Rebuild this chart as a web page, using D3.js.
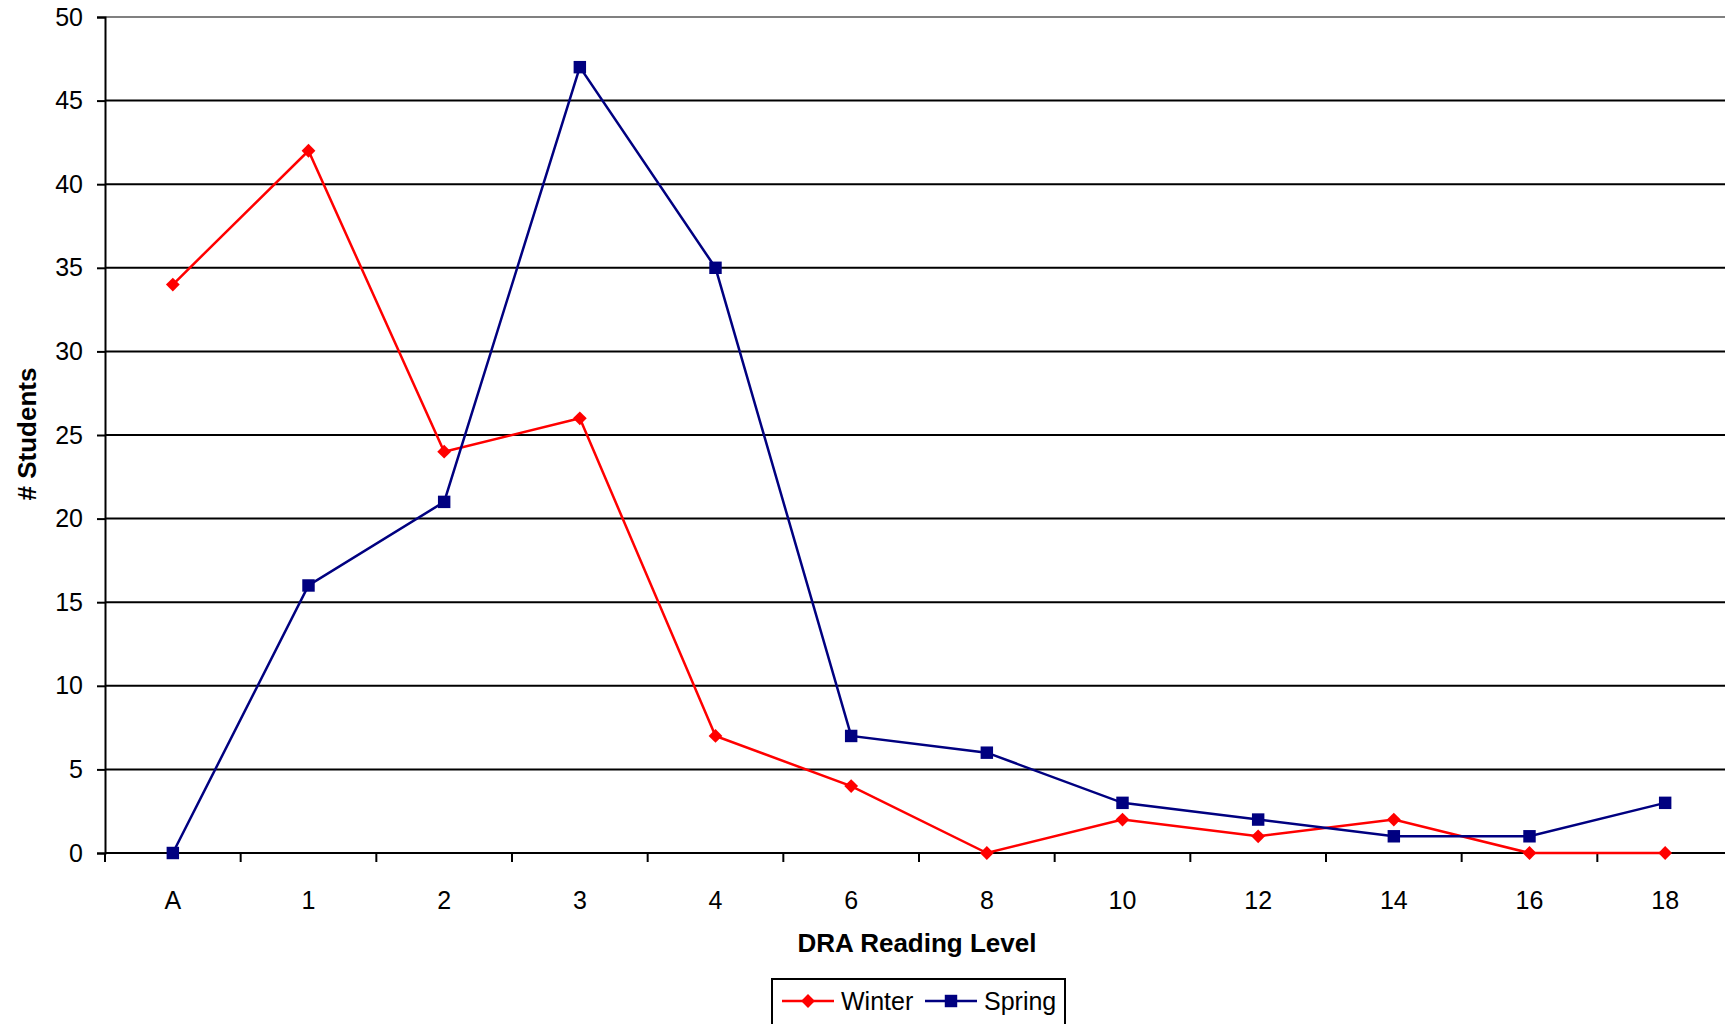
<!DOCTYPE html>
<html>
<head>
<meta charset="utf-8">
<script src="https://cdn.jsdelivr.net/npm/d3@7"></script>
<style>
  body { margin: 0; background: #fff; }
  text { font-family: "Liberation Sans", Arial, sans-serif; }
</style>
</head>
<body>
<script>
const levels = ["A", "1", "2", "3", "4", "6", "8", "10", "12", "14", "16", "18"];
const winter = [34, 42, 24, 26, 7, 4, 0, 2, 1, 2, 0, 0];
const spring = [0, 16, 21, 47, 35, 7, 6, 3, 2, 1, 1, 3];
const yTicks = [0, 5, 10, 15, 20, 25, 30, 35, 40, 45, 50];

const main = () => {
  const width = 1725, height = 1024;
  const left = 105, top = 17, bottom = 853;

  const svg = d3.select("body")
    .append("svg")
    .attr("width", width)
    .attr("height", height);

  const x = d3.scaleBand()
    .domain(levels)
    .range([left, 1733]);

  const y = d3.scaleLinear()
    .domain([0, 50])
    .range([bottom, top]);

  // gridlines
  svg.append("g")
    .selectAll("line")
    .data(yTicks.filter(d => d > 0))
    .enter()
    .append("line")
    .attr("x1", left)
    .attr("x2", width)
    .attr("y1", d => y(d))
    .attr("y2", d => y(d))
    .attr("stroke", d => d === 50 ? "#808080" : "#000")
    .attr("stroke-width", 2);

  // y axis
  const yAxis = svg.append("g")
    .attr("transform", `translate(${left},0)`)
    .call(d3.axisLeft(y).tickValues(yTicks).tickSize(8).tickPadding(14));
  yAxis.select(".domain").attr("stroke-width", 2);
  yAxis.selectAll(".tick line").attr("stroke-width", 2);
  yAxis.selectAll("text")
    .attr("font-size", 25)
    .attr("fill", "#000")
    .style("font-family", "Liberation Sans, Arial, sans-serif");

  // x axis
  const xAxis = svg.append("g")
    .attr("transform", `translate(0,${bottom})`)
    .call(d3.axisBottom(x).tickSize(0).tickPadding(38));
  xAxis.select(".domain").remove();
  xAxis.selectAll("text")
    .attr("font-size", 25)
    .attr("fill", "#000")
    .style("font-family", "Liberation Sans, Arial, sans-serif");

  svg.append("line")
    .attr("x1", left)
    .attr("x2", width)
    .attr("y1", bottom)
    .attr("y2", bottom)
    .attr("stroke", "#000")
    .attr("stroke-width", 2);

  // band boundary ticks
  svg.append("g")
    .selectAll("line")
    .data(levels)
    .enter()
    .append("line")
    .attr("x1", d => x(d))
    .attr("x2", d => x(d))
    .attr("y1", bottom)
    .attr("y2", bottom + 9)
    .attr("stroke", "#000")
    .attr("stroke-width", 2);

  // axis titles
  svg.append("text")
    .attr("x", 917)
    .attr("y", 952)
    .attr("text-anchor", "middle")
    .attr("font-size", 26)
    .attr("font-weight", "bold")
    .text("DRA Reading Level");

  svg.append("text")
    .attr("transform", "translate(36,434) rotate(-90)")
    .attr("text-anchor", "middle")
    .attr("font-size", 26)
    .attr("font-weight", "bold")
    .text("# Students");

  // diamond = square turned 45 degrees
  const series = [
    { name: "Winter", values: winter, color: "#ff0000", size: 95, rot: 45 },
    { name: "Spring", values: spring, color: "#000080", size: 155, rot: 0 }
  ];

  const line = d3.line()
    .x((d, i) => x(levels[i]) + x.bandwidth() / 2)
    .y(d => y(d));

  series.forEach(s => {
    svg.append("path")
      .attr("d", line(s.values))
      .attr("fill", "none")
      .attr("stroke", s.color)
      .attr("stroke-width", 2.5);

    svg.append("g")
      .selectAll("path")
      .data(s.values)
      .enter()
      .append("path")
      .attr("d", d3.symbol().type(d3.symbolSquare).size(s.size))
      .attr("transform", (d, i) => `translate(${x(levels[i]) + x.bandwidth() / 2},${y(d)}) rotate(${s.rot})`)
      .attr("fill", s.color);
  });

  // legend
  const legend = svg.append("g");
  legend.append("rect")
    .attr("x", 772)
    .attr("y", 979)
    .attr("width", 293)
    .attr("height", 52)
    .attr("fill", "#fff")
    .attr("stroke", "#000")
    .attr("stroke-width", 2);

  const legendX = [782, 925];
  series.forEach((s, i) => {
    const g = legend.append("g").attr("transform", `translate(${legendX[i]},1001)`);
    g.append("line")
      .attr("x1", 0)
      .attr("x2", 52)
      .attr("stroke", s.color)
      .attr("stroke-width", 2.5);
    g.append("path")
      .attr("d", d3.symbol().type(d3.symbolSquare).size(s.size))
      .attr("transform", `translate(26,0) rotate(${s.rot})`)
      .attr("fill", s.color);
    g.append("text")
      .attr("x", 59)
      .attr("y", 9)
      .attr("font-size", 25)
      .text(s.name);
  });
};

window.onload = main;
</script>
</body>
</html>
